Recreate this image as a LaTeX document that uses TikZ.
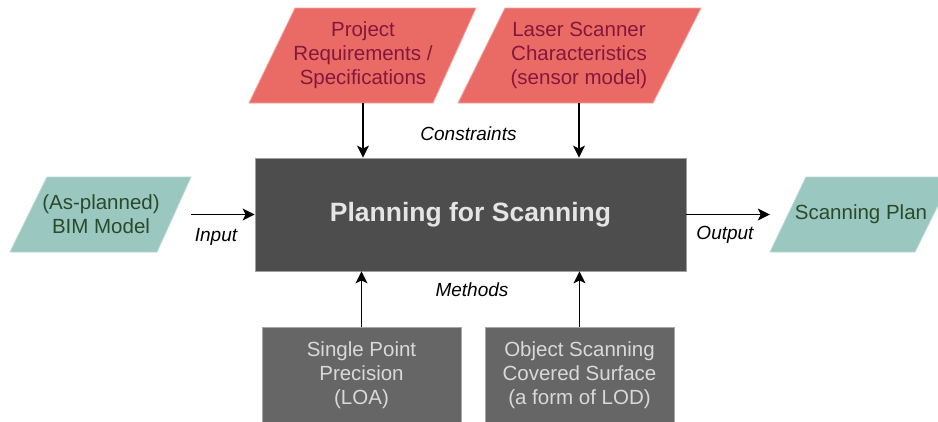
\documentclass[tikz,border=0pt]{standalone}
\usepackage{fontspec}
\setmainfont{Liberation Sans}
\usetikzlibrary{arrows.meta}
\definecolor{reqred}{HTML}{EA6B66}
\definecolor{reqedge}{HTML}{F3A29F}
\definecolor{reqtext}{HTML}{84173A}
\definecolor{bimteal}{HTML}{9AC7BF}
\definecolor{bimedge}{HTML}{B8D8D2}
\definecolor{bimtext}{HTML}{2B4A2C}
\definecolor{plangray}{HTML}{4D4D4D}
\definecolor{methgray}{HTML}{666666}

\begin{document}
\begin{tikzpicture}[x=1pt,y=-1pt,
  every node/.style={inner sep=0pt, align=center},
  redtxt/.style={text=reqtext, font=\fontsize{20.5}{24}\selectfont, minimum height=95pt},
  tealtxt/.style={text=bimtext, font=\fontsize{20.5}{24}\selectfont, minimum height=75pt},
  methbox/.style={fill=methgray, draw=gray!70, line width=0.8pt, text=white!85!black,
    font=\fontsize{20.5}{24}\selectfont, minimum height=96pt},
  lbl/.style={font=\fontsize{19}{22}\selectfont\itshape},
  link/.style={-{Stealth[length=12pt,width=12pt,inset=3pt]}, line width=1.2pt}]
  \useasboundingbox (0,0) rectangle (938,421);

  % Parallelograms
  \filldraw[fill=reqred, draw=reqedge, line width=0.8pt] (295,8) -- (476,8) -- (433,103) -- (249,103) -- cycle;
  \filldraw[fill=reqred, draw=reqedge, line width=0.8pt] (505,8) -- (701,8) -- (653,103) -- (458,103) -- cycle;
  \filldraw[fill=bimteal, draw=bimedge, line width=0.8pt] (47,177) -- (191,177) -- (157,252) -- (10,252) -- cycle;
  \filldraw[fill=bimteal, draw=bimedge, line width=0.8pt] (806,177) -- (952,177) -- (915,252) -- (770,252) -- cycle;

  % Nodes
  \node[redtxt] (req) at (363,55.5) {Project\\Requirements /\\Specifications};
  \node[redtxt] (sensor) at (579,55.5) {Laser Scanner\\Characteristics\\(sensor model)};
  \node[tealtxt, minimum width=180pt] (bim) at (101,214.5) {(As-planned)\\BIM Model};
  \node[tealtxt, minimum width=182pt] (plan) at (861,214.5) {Scanning Plan};
  \node[fill=plangray, draw=gray!75, line width=0.8pt, minimum width=431pt, minimum height=113pt,
    text=white!90!black, font=\fontsize{26.5}{30}\selectfont\bfseries] (main) at (470.5,214.5) {Planning for Scanning};
  \node[methbox, minimum width=199pt] (loa) at (361.5,375) {Single Point\\Precision\\(LOA)};
  \node[methbox, minimum width=189pt] (lod) at (579.5,375) {Object Scanning\\Covered Surface\\(a form of LOD)};

  % Arrows
  \draw[link] (req.south) -- (req.south |- main.north);
  \draw[link] (sensor.south) -- (sensor.south |- main.north);
  \draw[link] (bim.east) -- (main.west |- bim.east);
  \draw[link] (main.east) -- (plan.west);
  \draw[link] (loa.north) -- (loa.north |- main.south);
  \draw[link] (lod.north) -- (lod.north |- main.south);

  % Labels
  \node[lbl] (constr) at (468.5,134) {Constraints};
  \node[lbl] (meth) at (472,290) {Methods};
  \node[lbl] (inp) at (216,237) {Input};
  \node[lbl] (outp) at (725,235) {Output};
\end{tikzpicture}
\end{document}
